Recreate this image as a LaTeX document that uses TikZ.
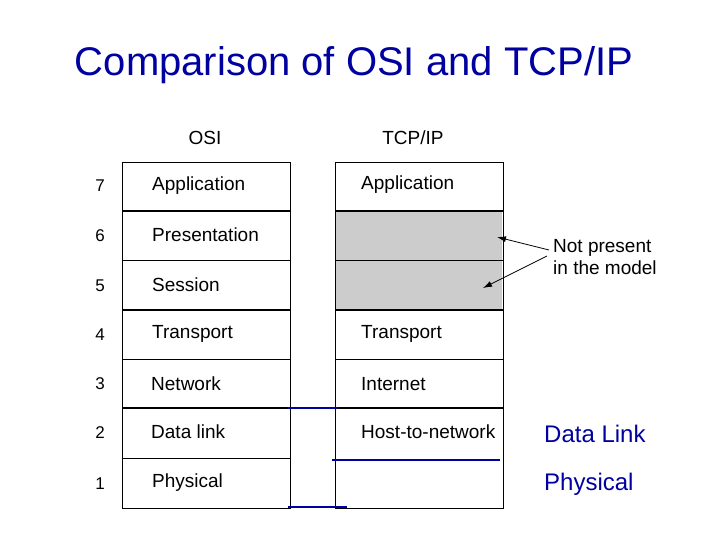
\documentclass[tikz,border=0pt]{standalone}
\usepackage{fontspec}
\setmainfont{Liberation Sans}
\usetikzlibrary{arrows.meta}
\begin{document}
\begin{tikzpicture}[x=1pt,y=-1pt,
  lbl/.style={anchor=west,font=\fontsize{19}{22}\selectfont,inner sep=0},
  num/.style={font=\fontsize{17}{20}\selectfont,inner sep=0},
  thin/.style={line width=0.8pt},
  thick2/.style={line width=1.6pt},
  blueline/.style={draw={rgb,255:red,0;green,0;blue,160},line width=2pt},
  bluetxt/.style={anchor=west,text={rgb,255:red,0;green,0;blue,160},font=\fontsize{24}{28}\selectfont,inner sep=0}]
\useasboundingbox (0,0) rectangle (720,540);
\node[text={rgb,255:red,0;green,0;blue,160},font=\fontsize{40}{46}\selectfont] (title) at (354,65) {Comparison of OSI and TCP/IP};
\node[font=\fontsize{19}{22}\selectfont] (hosi) at (205,138) {OSI};
\node[font=\fontsize{19}{22}\selectfont] (htcp) at (413,138) {TCP/IP};
% gray
\fill[gray!40] (336,211) rectangle (502,310);
% boxes
\draw[thin] (122,162) rectangle (290,508);
\draw[thin] (335,162) rectangle (503,508);
\foreach \y in {260,359,458} \draw[thin] (122,\y) -- (290,\y);
\foreach \y in {211,310,408} \draw[thick2] (122,\y) -- (290,\y);
\foreach \y in {211,310,408} \draw[thick2] (335,\y) -- (503,\y);
\foreach \y in {260,359} \draw[thin] (335,\y) -- (503,\y);
% numbers
\foreach \n/\y in {7/186,6/236,5/286,4/335,3/384,2/433,1/484} \node[num] (n\n) at (100,\y) {\n};
\node[lbl] (o7) at (152,186) {Application};
\node[lbl] (o6) at (152,235) {Presentation};
\node[lbl] (o5) at (152,285) {Session};
\node[lbl] (o4) at (152,334) {Transport};
\node[lbl] (o3) at (151,384) {Network};
\node[lbl] (o2) at (151,432) {Data link};
\node[lbl] (o1) at (152,483) {Physical};
\node[lbl] (t7) at (361,185) {Application};
\node[lbl] (t4) at (361,334) {Transport};
\node[lbl] (t3) at (361,384) {Internet};
\node[lbl] (t2) at (361,432) {Host-to-network};
% note
\node[anchor=west,font=\fontsize{19}{22}\selectfont,align=left,inner sep=0] (note) at (553,257) {Not present\\in the model};
\coordinate (a1) at (497,237);
\coordinate (a2) at (483,288);
\draw[thin,-{Latex[length=9pt,width=6pt]}] (549,250) -- (a1);
\draw[thin,-{Latex[length=9pt,width=6pt]}] (547,256) -- (a2);
% blue
\draw[blueline] (288,408) -- (338,408);
\draw[blueline] (332,460) -- (500,460);
\draw[blueline] (288,507) -- (347,507);
\node[bluetxt] (dl) at (544,434) {Data Link};
\node[bluetxt] (ph) at (544,484) {Physical};
\end{tikzpicture}
\end{document}
